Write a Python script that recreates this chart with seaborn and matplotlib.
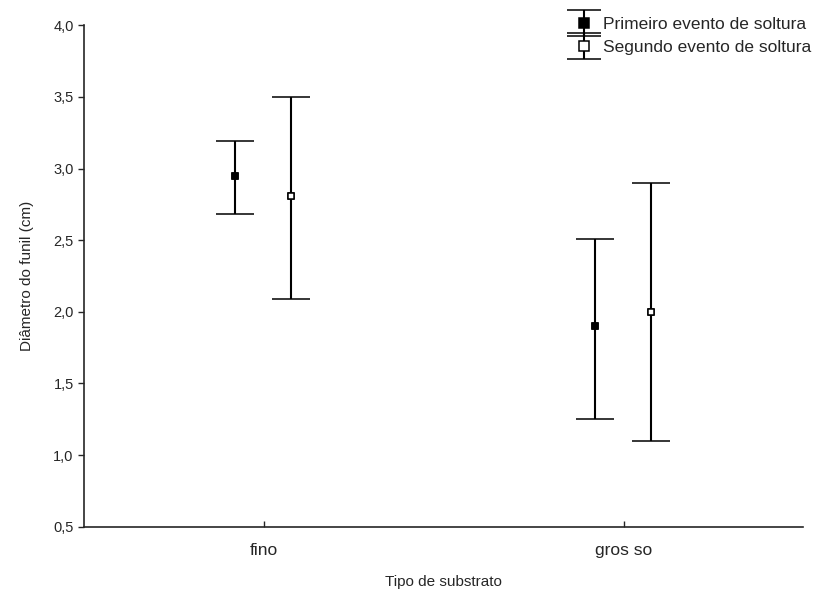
import numpy as np
import matplotlib
matplotlib.use("Agg")
import matplotlib.pyplot as plt
import matplotlib.ticker as mticker
from matplotlib.legend_handler import HandlerErrorbar
import seaborn as sns
import pandas as pd

substratos = ["fino", "grosso"]
series = ["Primeiro evento de soltura", "Segundo evento de soltura"]
media_1 = [2.95, 1.90]
sup_1 = [3.19, 2.51]
inf_1 = [2.68, 1.25]
media_2 = [2.81, 2.00]
sup_2 = [3.50, 2.90]
inf_2 = [2.09, 1.10]

sns.set_style("ticks")
plt.rcParams["font.family"] = ["Liberation Sans", "DejaVu Sans"]

df = pd.DataFrame({
    "substrato": substratos * 2,
    "evento": [series[0]] * 2 + [series[1]] * 2,
    "media": media_1 + media_2,
    "sup": sup_1 + sup_2,
    "inf": inf_1 + inf_2,
})
df["pos"] = df["substrato"].map({s: i for i, s in enumerate(substratos)})
df["pos"] = df["pos"] + np.where(df["evento"] == series[0], -0.08, 0.075)

fig, ax = plt.subplots(figsize=(8.24, 6.0), dpi=100)
fig.subplots_adjust(left=0.102, right=0.975, top=0.958, bottom=0.122)

handles = []
for ev, face in zip(series, ["black", "white"]):
    d = df[df["evento"] == ev]
    eb = ax.errorbar(d["pos"], d["media"],
                     yerr=[d["media"] - d["inf"], d["sup"] - d["media"]],
                     fmt="s", color="black", mfc=face, mec="black", ms=5,
                     mew=1.1, ecolor="black", elinewidth=1.5,
                     capsize=13.5, capthick=1.5, zorder=2)
    sns.scatterplot(data=d, x="pos", y="media", marker="s", s=18,
                    color=face, edgecolor="black", linewidth=1.1,
                    ax=ax, zorder=3, legend=False)
    handles.append(eb)

ax.set_xlim(-0.5, 1.5)
ax.set_ylim(0.5, 4.0)
ax.set_xticks(range(len(substratos)))
ax.set_xticklabels(["fino", "gros so"], fontsize=12.5)
ax.set_yticks(np.arange(0.5, 4.01, 0.5))
ax.yaxis.set_major_formatter(mticker.FuncFormatter(lambda v, p: f"{v:.1f}".replace(".", ",")))
ax.tick_params(axis="y", labelsize=10.5, length=4, width=1, direction="out")
ax.tick_params(axis="x", length=4, width=1, direction="in", pad=12)
ax.set_xlabel("Tipo de substrato", fontsize=11, labelpad=12)
ax.set_ylabel("Diâmetro do funil (cm)", fontsize=11, labelpad=14)
for s in ["left", "bottom"]:
    ax.spines[s].set_linewidth(1.2)
sns.despine(ax=ax)


def legend_caps(leg_artist, orig):
    leg_artist.update_from(orig)
    if hasattr(leg_artist, "get_marker"):
        if leg_artist.get_marker() == "_":
            leg_artist.set_markersize(25)
        elif leg_artist.get_marker() == "s":
            leg_artist.set_markersize(6.5)


ax.legend(handles, series, loc="upper left",
          bbox_to_anchor=(567 / 824, 1 - 17 / 600), bbox_transform=fig.transFigure,
          borderpad=0, borderaxespad=0, frameon=False, fontsize=12.5,
          handlelength=2.0, handletextpad=0.05, labelspacing=0.45,
          handler_map={type(handles[0]): HandlerErrorbar(yerr_size=0.75, update_func=legend_caps)})

fig.savefig("out.png", dpi=100)
